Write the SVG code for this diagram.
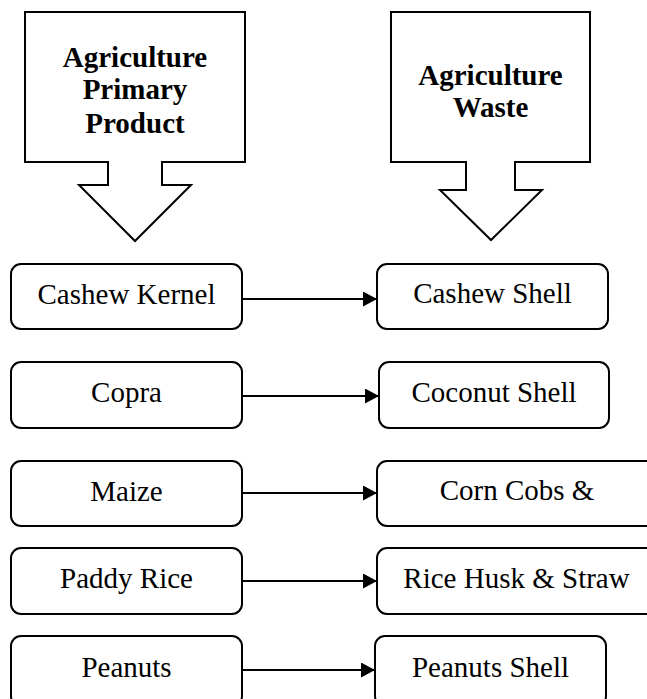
<svg xmlns="http://www.w3.org/2000/svg" width="647" height="699" viewBox="0 0 647 699">
<style>
.box{fill:#fff;stroke:#000;stroke-width:2}
.callout{fill:#fff;stroke:#000;stroke-width:2;stroke-linejoin:miter}
.t{font-family:'Liberation Serif','Times New Roman',Times,'DejaVu Serif',serif;font-size:29px;fill:#000;text-anchor:middle}
.b{font-family:'Liberation Serif','Times New Roman',Times,'DejaVu Serif',serif;font-size:29px;font-weight:bold;fill:#000;text-anchor:middle}
.conn{stroke:#000;stroke-width:2;fill:none}
</style>
<defs>
<marker id="ah" markerUnits="userSpaceOnUse" markerWidth="16" markerHeight="16" refX="14" refY="7.5" orient="auto">
<path d="M0,0 L14,7.5 L0,15 Z" fill="#000"/>
</marker>
</defs>
<rect width="647" height="699" fill="#fff"/>
<g id="primary-header">
<path class="callout" d="M25,12 H245 V162 H162 V185 H191 L135,241 L79,185 H108 V162 H25 Z"/>
<text class="b" x="135" y="67">Agriculture</text>
<text class="b" x="135" y="99">Primary</text>
<text class="b" x="135" y="133">Product</text>
</g>
<g id="waste-header">
<path class="callout" d="M391,12 H590 V162 H515 V190 H542 L491,240 L440,190 H466 V162 H391 Z"/>
<text class="b" x="490.5" y="85">Agriculture</text>
<text class="b" x="490.5" y="117">Waste</text>
</g>
<g id="cashew-kernel"><rect class="box" x="11" y="264" width="231" height="65" rx="10"/><text class="t" x="126.5" y="304">Cashew Kernel</text></g>
<g id="copra"><rect class="box" x="11" y="362" width="231" height="66" rx="10"/><text class="t" x="126.5" y="402">Copra</text></g>
<g id="maize"><rect class="box" x="11" y="461" width="231" height="65" rx="10"/><text class="t" x="126.5" y="501">Maize</text></g>
<g id="paddy-rice"><rect class="box" x="11" y="548" width="231" height="66" rx="10"/><text class="t" x="126.5" y="588">Paddy Rice</text></g>
<g id="peanuts"><rect class="box" x="11" y="636" width="231" height="70" rx="10"/><text class="t" x="126.5" y="677">Peanuts</text></g>
<g id="cashew-shell"><rect class="box" x="377" y="264" width="231" height="65" rx="10"/><text class="t" x="492.5" y="303">Cashew Shell</text></g>
<g id="coconut-shell"><rect class="box" x="379" y="362" width="230" height="66" rx="10"/><text class="t" x="494" y="402">Coconut Shell</text></g>
<g id="corn-cobs"><rect class="box" x="377" y="461" width="279" height="65" rx="10"/><text class="t" x="517" y="500">Corn Cobs &amp;</text></g>
<g id="rice-husk"><rect class="box" x="377" y="548" width="279" height="66" rx="10"/><text class="t" x="516.5" y="588">Rice Husk &amp; Straw</text></g>
<g id="peanuts-shell"><rect class="box" x="375" y="636" width="231" height="70" rx="10"/><text class="t" x="490.5" y="677">Peanuts Shell</text></g>
<g id="connectors">
<line class="conn" x1="243" y1="299" x2="377" y2="299" marker-end="url(#ah)"/>
<line class="conn" x1="243" y1="396" x2="379" y2="396" marker-end="url(#ah)"/>
<line class="conn" x1="243" y1="493" x2="377" y2="493" marker-end="url(#ah)"/>
<line class="conn" x1="243" y1="581" x2="377" y2="581" marker-end="url(#ah)"/>
<line class="conn" x1="243" y1="670" x2="375" y2="670" marker-end="url(#ah)"/>
</g>
</svg>
